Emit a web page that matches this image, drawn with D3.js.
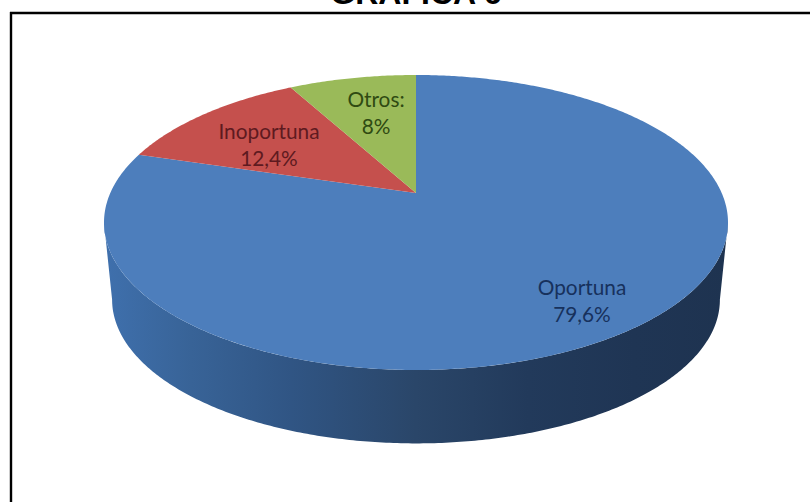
<!DOCTYPE html>
<html>
<head>
<meta charset="utf-8">
<script src="https://cdn.jsdelivr.net/npm/d3@7/dist/d3.min.js"></script>
<style>
  html, body { margin: 0; padding: 0; background: #fff; }
  svg { display: block; }
  text { font-family: Lato, "Open Sans", sans-serif; }
</style>
</head>
<body>
<svg id="chart" width="810" height="502"></svg>
<script>
// Chart content
const chartTitle = "GRAFICA 6";
const categories = ["Oportuna", "Inoportuna", "Otros:"];
const shares = [79.6, 12.4, 8];
const shareLabels = ["79,6%", "12,4%", "8%"];
const sliceColors = ["#4d7ebc", "#c5504d", "#9aba59"];
const labelColors = ["#17315c", "#5e1a20", "#2f4a12"];

const svg = d3.select("#chart");
const width = 810, height = 502;

// Frame: only the top and left rules fall inside the view
svg.append("line").attr("x1", 10).attr("x2", width).attr("y1", 13).attr("y2", 13)
  .attr("stroke", "#000").attr("stroke-width", 2.4);
svg.append("line").attr("x1", 11).attr("x2", 11).attr("y1", 12).attr("y2", height)
  .attr("stroke", "#000").attr("stroke-width", 2.4);

svg.append("text")
  .attr("x", 416).attr("y", 4)
  .attr("text-anchor", "middle")
  .style("font-family", '"Liberation Sans", Arial, sans-serif')
  .style("font-weight", 700).style("font-size", "32px")
  .text(chartTitle);

// Tilted disc: a circle seen in perspective, pivoted on the pie's centre
const pivot = { x: 416, y: 193 };
const tilt = { a: 305.7, b: 141.6, k: 0.2 };
function project(angle, radius = 1, shrink = 1, dy = 0) {
  const X = Math.sin(angle) * radius, Y = Math.cos(angle) * radius;
  const w = 1 + tilt.k * Y;
  return [pivot.x + shrink * tilt.a * X / w, pivot.y + dy - shrink * tilt.b * Y / w];
}

// Slices run clockwise from twelve o'clock
const arcs = d3.pie().sort(null)(shares);
const line = d3.line();

function rimAngles(start, end, step = 0.01) {
  const list = d3.range(start, end, step);
  list.push(end);
  return list;
}

// Wall of the disc: a narrower, lower rim joined to the visible front of the top rim
const wallDrop = 78;
const wallShrink = 0.974;
const frontFrom = Math.PI - Math.acos(tilt.k), frontTo = Math.PI + Math.acos(tilt.k);
const defs = svg.append("defs");
const wallGrad = defs.append("linearGradient").attr("id", "wall")
  .attr("gradientUnits", "userSpaceOnUse")
  .attr("x1", 104).attr("x2", 728).attr("y1", 0).attr("y2", 0);
[[0, "#3f70ad"], [0.14, "#386397"], [0.3, "#305584"], [0.5, "#2a4669"], [0.68, "#223a5b"], [0.85, "#1f3554"], [1, "#1e3350"]]
  .forEach(([o, c]) => wallGrad.append("stop").attr("offset", o).attr("stop-color", c));

const topFront = rimAngles(frontFrom, frontTo).map(a => project(a));
const lowFront = rimAngles(frontFrom, frontTo).map(a => project(a, 1, wallShrink, wallDrop)).reverse();
svg.append("path")
  .attr("d", line(topFront.concat(lowFront)) + "Z")
  .attr("fill", "url(#wall)");

// Top face of each slice
svg.selectAll("path.slice").data(arcs).enter().append("path")
  .attr("class", "slice")
  .attr("d", d => line([[pivot.x, pivot.y], ...rimAngles(d.startAngle, d.endAngle).map(a => project(a))]) + "Z")
  .attr("fill", (d, i) => sliceColors[i]);

// Two-line labels inside the slices
const labelSpots = [
  { x: 582, y: 295 }, { x: 269, y: 139 }, { x: 376, y: 107 }
];
const labels = svg.selectAll("text.lab").data(categories).enter().append("text")
  .attr("class", "lab")
  .attr("text-anchor", "middle")
  .style("font-size", "20.8px")
  .attr("fill", (d, i) => labelColors[i]);
labels.append("tspan").attr("x", (d, i) => labelSpots[i].x).attr("y", (d, i) => labelSpots[i].y).text(d => d);
labels.append("tspan").attr("x", (d, i) => labelSpots[i].x).attr("y", (d, i) => labelSpots[i].y + 27)
  .text((d, i) => shareLabels[i]);
</script>
</body>
</html>
